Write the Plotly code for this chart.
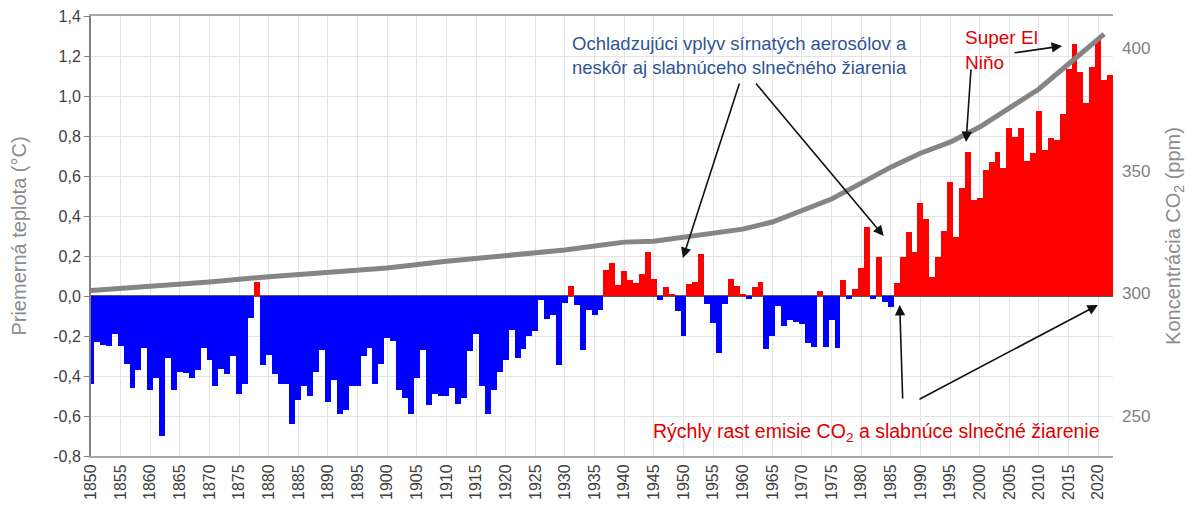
import plotly.graph_objects as go

# ---- data ----
first_year = 1850
temperature = [
    # 1850-1859
    -0.44, -0.23, -0.245, -0.25, -0.19, -0.25, -0.34, -0.46, -0.37, -0.26,
    # 1860-1869
    -0.47, -0.41, -0.70, -0.31, -0.47, -0.38, -0.385, -0.41, -0.37, -0.26,
    # 1870-1879
    -0.32, -0.45, -0.365, -0.39, -0.30, -0.49, -0.44, -0.11, 0.07, -0.345,
    # 1880-1889
    -0.295, -0.39, -0.44, -0.44, -0.64, -0.52, -0.45, -0.50, -0.38, -0.27,
    # 1890-1899
    -0.53, -0.42, -0.59, -0.57, -0.45, -0.45, -0.30, -0.26, -0.44, -0.34,
    # 1900-1909
    -0.21, -0.225, -0.47, -0.51, -0.59, -0.41, -0.27, -0.545, -0.49, -0.50,
    # 1910-1919
    -0.50, -0.46, -0.54, -0.51, -0.275, -0.19, -0.45, -0.59, -0.47, -0.38,
    # 1920-1929
    -0.32, -0.17, -0.31, -0.265, -0.20, -0.175, -0.02, -0.115, -0.095, -0.345,
    # 1930-1939
    -0.035, 0.05, -0.045, -0.27, -0.07, -0.095, -0.07, 0.13, 0.165, 0.055,
    # 1940-1949
    0.125, 0.08, 0.065, 0.11, 0.22, 0.085, -0.018, 0.047, 0.008, -0.075,
    # 1950-1959
    -0.20, 0.058, 0.07, 0.21, -0.04, -0.135, -0.285, -0.04, 0.085, 0.05,
    # 1960-1969
    0.01, -0.015, 0.047, 0.072, -0.265, -0.20, -0.05, -0.15, -0.12, -0.13,
    # 1970-1979
    -0.14, -0.235, -0.255, 0.027, -0.255, -0.12, -0.26, 0.08, -0.017, 0.033,
    # 1980-1989
    0.14, 0.343, -0.017, 0.193, -0.03, -0.057, 0.063, 0.195, 0.318, 0.218,
    # 1990-1999
    0.467, 0.385, 0.097, 0.193, 0.327, 0.572, 0.293, 0.538, 0.718, 0.48,
    # 2000-2009
    0.488, 0.63, 0.672, 0.722, 0.638, 0.838, 0.797, 0.838, 0.675, 0.713,
    # 2010-2019
    0.927, 0.73, 0.788, 0.78, 0.91, 1.135, 1.26, 1.12, 0.967, 1.147,
    # 2020-2022
    1.28, 1.08, 1.105,
]
years = list(range(first_year, first_year + len(temperature)))

co2_years = [1850, 1860, 1870, 1880, 1890, 1900, 1910, 1920, 1930, 1935,
             1940, 1945, 1950, 1955, 1960, 1965, 1970, 1975, 1980, 1985,
             1990, 1995, 2000, 2005, 2010, 2015, 2021]
co2_ppm = [301.0, 302.6, 304.5, 306.7, 308.6, 310.2, 313.0, 315.1, 317.6, 319.2,
           320.8, 321.2, 322.9, 324.5, 326.1, 329.0, 333.5, 338.4, 344.9, 351.4,
           357.1, 361.6, 367.8, 375.5, 383.3, 393.5, 405.7]

left_ticks = [-0.8, -0.6, -0.4, -0.2, 0.0, 0.2, 0.4, 0.6, 0.8, 1.0, 1.2, 1.4]
right_ticks = [250, 300, 350, 400]
year_ticks = list(range(1850, 2021, 5))

RED = "#FF0000"
BLUE = "#0000FF"
FONT = "Arial, Liberation Sans, sans-serif"

bar_colors = [RED if v >= 0 else BLUE for v in temperature]

fig = go.Figure()
fig.add_trace(go.Bar(
    x=years, y=temperature, marker=dict(color=bar_colors, line=dict(width=0)),
    width=1.0, showlegend=False, hoverinfo="x+y",
))
fig.add_trace(go.Scatter(
    x=co2_years, y=co2_ppm, yaxis="y2", mode="lines",
    line=dict(color="#858585", width=5), showlegend=False,
))

# the html page body has an 8px margin, so the figure is sized to fit after it
fig.update_layout(
    width=1186, height=502,
    margin=dict(l=83, r=81, t=8, b=54),
    paper_bgcolor="white", plot_bgcolor="white",
    bargap=0,
    font=dict(family=FONT, color="#404040"),
    xaxis=dict(
        range=[1850, 2022.5], tickmode="array", tickvals=year_ticks,
        ticktext=[str(y) for y in year_ticks], tickangle=-90,
        tickfont=dict(size=16, color="#404040"),
        showgrid=True, gridcolor="#E3E3E3", gridwidth=1,
        showline=True, linecolor="#A6A6A6", linewidth=2, mirror=True,
        ticks="", zeroline=False, automargin=False,
    ),
    yaxis=dict(
        range=[-0.8, 1.4], tickmode="array", tickvals=left_ticks,
        ticktext=[f"{v:.1f}".replace(".", ",") for v in left_ticks],
        tickfont=dict(size=16, color="#404040"),
        ticklabeloverflow="allow",
        showgrid=True, gridcolor="#E3E3E3", gridwidth=1,
        showline=True, linecolor="#808080", linewidth=2,
        ticks="outside", ticklen=5, tickcolor="#808080",
        zeroline=True, zerolinecolor="#595959", zerolinewidth=1.5,
        automargin=False,
        title=dict(text="Priemerná teplota (°C)", font=dict(size=20, color="#8C8C8C"),
                   standoff=22),
    ),
    yaxis2=dict(
        overlaying="y", side="right", range=[233.5, 413.1],
        tickmode="array", tickvals=right_ticks,
        ticktext=[str(v) for v in right_ticks],
        tickfont=dict(size=17, color="#7F7F7F"),
        ticklabelstandoff=8,
        showgrid=False, zeroline=False, showline=False, ticks="",
        automargin=False,
        title=dict(text="Koncentrácia CO<sub>2</sub> (ppm)",
                   font=dict(size=20, color="#8C8C8C"), standoff=16),
    ),
)

# ---- text annotations ----
fig.add_annotation(
    x=1959.5, y=1.205, xref="x", yref="y", showarrow=False,
    text="Ochladzujúci vplyv sírnatých aerosólov a<br>neskôr aj slabnúceho slnečného žiarenia",
    font=dict(size=18.5, color="#2F5496", family=FONT), align="center",
    xanchor="center", yanchor="middle",
)
fig.add_annotation(
    x=1997.2, y=1.355, xref="x", yref="y", showarrow=False,
    text="Super El<br>Niňo", font=dict(size=19, color="#E00000", family=FONT),
    align="left", xanchor="left", yanchor="top",
)
fig.add_annotation(
    x=1982.6, y=-0.68, xref="x", yref="y", showarrow=False,
    text="Rýchly rast emisie CO<sub>2</sub> a slabnúce slnečné žiarenie",
    font=dict(size=19.5, color="#E00000", family=FONT),
    xanchor="center", yanchor="middle",
)

# ---- arrows (tip in data coords, tail offset in pixels) ----
arrows = [
    (1949.9, 0.19, 57, -176),
    (1983.8, 0.30, -129, -154),
    (2013.9, 1.25, -49, 7),
    (1997.7, 0.77, 5, -74),
    (1986.5, -0.045, 3, 95),
    (2019.96, -0.045, -180, 95),
]
for ax_x, ax_y, dx, dy in arrows:
    fig.add_annotation(
        x=ax_x, y=ax_y, xref="x", yref="y", text="", showarrow=True,
        ax=dx, ay=dy, axref="pixel", ayref="pixel",
        arrowhead=2, arrowsize=1.3, arrowwidth=1.6, arrowcolor="#111111",
    )

fig.write_html("out.html")
